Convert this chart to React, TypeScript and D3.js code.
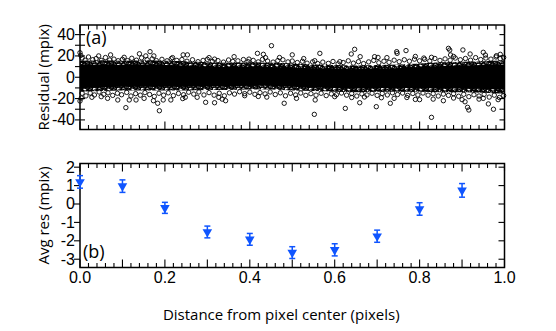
import React from "react";
import * as d3 from "d3";

// ---- Panel (b) data: average residual vs distance ----
const avgX = [0.0, 0.1, 0.2, 0.3, 0.4, 0.5, 0.6, 0.7, 0.8, 0.9];
const avgY = [1.2, 0.97, -0.21, -1.52, -1.92, -2.64, -2.49, -1.75, -0.27, 0.74];
const avgErr = [0.34, 0.34, 0.3, 0.32, 0.32, 0.32, 0.33, 0.33, 0.34, 0.37];

// ---- Panel (a) data: dense band of residuals (read envelope) ----
const coreX = [0, 0.05, 0.1, 0.15, 0.2, 0.25, 0.3, 0.35, 0.4, 0.45, 0.5, 0.55, 0.6, 0.65, 0.7, 0.75, 0.8, 0.85, 0.9, 0.95, 1.0];
const coreTop = [15.5, 16, 15.5, 16, 15.5, 15, 14, 13.5, 14, 13.5, 13, 12, 11.5, 11, 11.5, 12, 13, 14, 14.5, 15, 16];
const coreBot = [-13.5, -13, -12.5, -12.5, -12.5, -12.5, -12, -12, -11.5, -11.5, -12.5, -13, -13.5, -14, -13.5, -13.5, -13.5, -14, -14, -14.5, -15.5];
// solid (fully overlapped) inner part of the band
const solidTop = [11.5, 12, 11.5, 12, 11.5, 11, 10, 9.5, 10, 9.5, 9, 8.5, 8, 7.5, 8, 8.5, 9.5, 10.5, 11, 11.5, 12];
const solidBot = [-10, -9.5, -9, -9, -9, -9, -8.5, -8.5, -8, -8, -9, -9.5, -10, -10.5, -10, -10, -10, -10.5, -10.5, -11, -11.5];

// Individual residual points near band edges and outliers: [x, residual]
const upperFringe: [number, number][] = [
  [0.005,18],[0.012,16],[0.02,19],[0.03,16.5],[0.038,17.5],[0.05,15.8],[0.06,18.5],[0.07,16.2],[0.08,17],[0.09,15.5],
  [0.1,16.8],[0.112,15.6],[0.122,17.8],[0.133,16],[0.145,18.2],[0.158,16.5],[0.17,17.2],[0.18,15.6],[0.193,16.8],[0.205,15.4],
  [0.215,17.4],[0.228,15.8],[0.24,16.6],[0.252,15],[0.265,16.4],[0.278,14.6],[0.29,15.8],[0.3,16.8],[0.312,14.8],[0.325,15.6],
  [0.338,14.2],[0.35,16.2],[0.36,14.8],[0.372,15.4],[0.385,16.6],[0.396,14.6],[0.408,15.8],[0.42,14.4],[0.43,16.8],[0.442,15.2],
  [0.455,14.2],[0.466,15.6],[0.478,16.4],[0.49,14.4],[0.5,15.2],[0.512,13.8],[0.524,15],[0.535,13.2],[0.548,14.4],[0.56,12.8],
  [0.572,14.2],[0.585,13],[0.596,14.8],[0.608,12.6],[0.62,13.8],[0.632,15.4],[0.644,13.2],[0.656,14.6],[0.668,12.8],[0.68,14.4],
  [0.692,15.8],[0.704,13.6],[0.716,15],[0.728,14],[0.74,16],[0.752,14.6],[0.764,16.4],[0.776,15],[0.788,17],[0.8,15.4],
  [0.812,16.8],[0.824,15.2],[0.836,17.6],[0.848,15.8],[0.86,17.2],[0.872,16],[0.884,18],[0.896,16.4],[0.908,17.6],[0.92,16],
  [0.932,18.4],[0.944,16.6],[0.956,18],[0.968,17],[0.98,19],[0.99,17.4],[0.998,18.6],
];
const lowerFringe: [number, number][] = [
  [0.005,-15],[0.014,-17.5],[0.024,-14.8],[0.034,-16.6],[0.045,-13.8],[0.056,-16],[0.066,-14.6],[0.077,-17],[0.088,-15],[0.098,-16.4],
  [0.11,-14.2],[0.12,-17.6],[0.131,-15.4],[0.142,-16.8],[0.153,-14.4],[0.164,-16.2],[0.175,-18],[0.186,-15],[0.197,-16.8],[0.208,-14.6],
  [0.22,-17.2],[0.232,-15.2],[0.244,-16.4],[0.256,-14],[0.268,-15.8],[0.28,-13.8],[0.292,-16.6],[0.304,-14.4],[0.316,-16.8],[0.328,-15],
  [0.34,-17.4],[0.352,-14.6],[0.364,-15.8],[0.376,-13.6],[0.388,-15.4],[0.4,-14],[0.412,-16],[0.424,-14.4],[0.436,-15.6],[0.448,-13.8],
  [0.46,-16.2],[0.472,-14.6],[0.484,-17.4],[0.496,-15],[0.508,-16.6],[0.52,-14.8],[0.532,-17],[0.544,-15.4],[0.556,-16.8],[0.568,-15],
  [0.58,-17.2],[0.592,-15.6],[0.604,-16.4],[0.616,-14.8],[0.628,-16.8],[0.64,-15.2],[0.652,-17.6],[0.664,-15.6],[0.676,-16.6],[0.688,-15],
  [0.7,-17],[0.712,-15.2],[0.724,-16.6],[0.736,-14.6],[0.748,-16.2],[0.76,-14.8],[0.772,-17],[0.784,-15.2],[0.796,-16.6],[0.808,-14.8],
  [0.82,-16.8],[0.832,-15.4],[0.844,-17.6],[0.856,-15.8],[0.868,-17],[0.88,-15.4],[0.892,-17.8],[0.904,-16],[0.916,-18.2],[0.928,-16.4],
  [0.94,-17.6],[0.952,-16],[0.964,-18.6],[0.976,-16.8],[0.988,-19],[0.998,-17.2],
];
const outliers: [number, number][] = [
  [0.0,23],[0.002,20.5],[0.044,20],[0.072,21],[0.104,18.7],[0.14,22],[0.155,20],[0.165,24],[0.174,20],[0.218,18.4],
  [0.243,21],[0.253,21],[0.304,18.4],[0.317,17],[0.363,19.3],[0.398,17],[0.418,22.4],[0.432,21.5],[0.437,18.4],[0.451,29.6],
  [0.47,18.5],[0.5,21],[0.527,17.5],[0.565,22.4],[0.553,15.5],[0.612,14.6],[0.639,21.8],[0.647,26.2],[0.66,19.3],[0.694,19.3],
  [0.702,18.6],[0.723,18.4],[0.746,24],[0.747,22.4],[0.768,25],[0.79,19.5],[0.81,18],[0.828,18.7],[0.868,27.1],[0.871,25.5],
  [0.873,20.9],[0.88,19.5],[0.902,25.6],[0.919,21.8],[0.95,23.4],[0.955,20.8],[0.981,20.2],[0.99,21.5],
  [0.0,-22.3],[0.003,-19.5],[0.028,-18.8],[0.05,-18.2],[0.065,-19.8],[0.089,-21.3],[0.108,-28.5],[0.116,-21.3],[0.132,-21.3],[0.151,-19.8],
  [0.173,-22],[0.183,-24.4],[0.187,-31.4],[0.196,-21.3],[0.214,-21.3],[0.242,-20],[0.248,-18.8],[0.276,-18.8],[0.296,-23.5],[0.317,-23.9],
  [0.327,-18.8],[0.335,-20.5],[0.343,-22],[0.388,-17.3],[0.42,-18],[0.44,-18.6],[0.481,-24.4],[0.51,-19.8],[0.554,-21.3],[0.552,-34.8],
  [0.6,-18.2],[0.625,-29.2],[0.64,-19],[0.659,-23.9],[0.67,-18.5],[0.698,-27.6],[0.71,-19.2],[0.731,-24.4],[0.74,-19.8],[0.77,-19],
  [0.79,-20.8],[0.8,-21],[0.828,-37.6],[0.832,-20.5],[0.856,-22],[0.88,-19.5],[0.9,-21],[0.907,-23],[0.913,-28.2],[0.916,-30.7],
  [0.94,-20.5],[0.95,-19.8],[0.962,-25],[0.974,-30],[0.985,-21],
];

const xTickLabels = ["0.0", "0.2", "0.4", "0.6", "0.8", "1.0"];
const topYLabels = [40, 20, 0, -20, -40];
const botYLabels = [2, 1, 0, -1, -2, -3];

const FONT = "'Open Sans', 'Noto Sans', sans-serif";
const TICKFONT = "'Liberation Sans', Arial, sans-serif";
const BLUE = "#0f55ff";

export default function App() {
  const W = 556, H = 331;
  const L = 80, R = 504.5;
  const topT = 25, topB = 129.5;
  const botT = 163.5, botB = 267.5;

  const x = d3.scaleLinear().domain([0, 1]).range([L, R]);
  const yTop = d3.scaleLinear().domain([-49, 49]).range([topB, topT]);
  const yBot = d3.scaleLinear().domain([-3.45, 2.2]).range([botB, botT]);

  const band = (lo: number[], hi: number[]) =>
    d3
      .area<number>()
      .x((_, i) => x(coreX[i]))
      .y0((_, i) => yTop(lo[i]))
      .y1((_, i) => yTop(hi[i]))
      .curve(d3.curveMonotoneX)(coreX) as string;

  const minor = d3.range(0, 51).map((i) => i / 50);
  const points = [...upperFringe, ...lowerFringe, ...outliers];
  const tri = d3.symbol().type(d3.symbolTriangle).size(40)() as string;

  // texture of overlapping hollow markers for the dense part of the band
  const tex: [number, number][] = [
    [1.5, 1.2], [6.2, 2.6], [10.8, 0.8], [15.4, 3.1], [20.1, 1.4],
    [3.6, 5.2], [8.4, 6.4], [12.9, 4.9], [17.6, 6.8], [22.3, 5.5],
    [0.9, 8.9], [5.7, 10.1], [10.2, 8.4], [14.8, 10.6], [19.4, 9.2],
    [4.0, 0.2], [13.1, 1.9], [21.6, 10.9], [8.9, 3.6], [18.2, 4.2],
    [2.6, 7.3], [11.5, 11.2], [16.7, 8.6], [23.2, 7.9],
  ];

  const xTicks = (t: number, b: number, majorEvery: number) =>
    minor.map((v, i) => {
      const major = i % majorEvery === 0;
      const len = major ? 8 : 4.5;
      return (
        <g key={"xt" + i}>
          <line x1={x(v)} x2={x(v)} y1={t} y2={t + len} stroke="#000" strokeWidth={1.1} />
          <line x1={x(v)} x2={x(v)} y1={b} y2={b - len} stroke="#000" strokeWidth={1.1} />
        </g>
      );
    });

  return (
    <svg width={W} height={H} style={{ position: "absolute", left: 0, top: 0, background: "#fff" }} fontFamily={FONT}>
      <defs>
        <pattern id="dense" patternUnits="userSpaceOnUse" width={24} height={12}>
          {tex.flatMap((c, i) =>
            [-24, 0, 24].flatMap((dx) =>
              [-12, 0, 12].map((dy) => (
                <circle key={i + "_" + dx + "_" + dy} cx={c[0] + dx} cy={c[1] + dy} r={2.2} fill="none" stroke="#000" strokeWidth={1.1} />
              ))
            )
          )}
        </pattern>
      </defs>
      {/* Panel (a) */}
      <path d={band(coreBot, coreTop)} fill="url(#dense)" />
      <path d={band(solidBot, solidTop)} fill="#000" />
      {points.map((p, i) => (
        <circle key={"p" + i} cx={x(p[0])} cy={yTop(p[1])} r={2.2} fill="none" stroke="#000" strokeWidth={0.9} />
      ))}
      <rect x={L} y={topT} width={R - L} height={topB - topT} fill="none" stroke="#000" strokeWidth={1.5} />
      {xTicks(topT, topB, 10)}
      {d3.range(-40, 41, 10).map((v) => (
        <g key={"ty" + v}>
          <line x1={L - 5} x2={L + 5} y1={yTop(v)} y2={yTop(v)} stroke="#000" strokeWidth={1.1} />
          <line x1={R} x2={R - 5} y1={yTop(v)} y2={yTop(v)} stroke="#000" strokeWidth={1.1} />
        </g>
      ))}
      {topYLabels.map((v) => (
        <text key={"tyl" + v} x={75} y={yTop(v) + 5.5} textAnchor="end" fontSize={16} fontFamily={TICKFONT}>
          {v}
        </text>
      ))}
      <text x={86} y={43.5} fontSize={18}>(a)</text>
      <text transform={`translate(48.5,${(topT + topB) / 2}) rotate(-90)`} textAnchor="middle" fontSize={15}>
        Residual (mpix)
      </text>

      {/* Panel (b) */}
      <rect x={L} y={botT} width={R - L} height={botB - botT} fill="none" stroke="#000" strokeWidth={1.5} />
      {xTicks(botT, botB, 5)}
      {d3.range(-3, 3, 1).map((v) => (
        <g key={"by" + v}>
          <line x1={L - 6} x2={L} y1={yBot(v)} y2={yBot(v)} stroke="#000" strokeWidth={1.1} />
          <line x1={R} x2={R - 6} y1={yBot(v)} y2={yBot(v)} stroke="#000" strokeWidth={1.1} />
        </g>
      ))}
      {botYLabels.map((v) => (
        <text key={"byl" + v} x={75} y={yBot(v) + 5.5} textAnchor="end" fontSize={16} fontFamily={TICKFONT}>
          {v}
        </text>
      ))}
      <text x={83} y={257.5} fontSize={18}>(b)</text>
      <text transform={`translate(48.5,${(botT + botB) / 2}) rotate(-90)`} textAnchor="middle" fontSize={15}>
        Avg res (mpix)
      </text>
      {avgX.map((v, i) => {
        const cx = x(v);
        const y1 = yBot(avgY[i] + avgErr[i]);
        const y2 = yBot(avgY[i] - avgErr[i]);
        return (
          <g key={"m" + i} stroke={BLUE} strokeWidth={1.5}>
            <line x1={cx} x2={cx} y1={y1} y2={y2} />
            <line x1={cx - 3} x2={cx + 3} y1={y1} y2={y1} />
            <line x1={cx - 3} x2={cx + 3} y1={y2} y2={y2} />
            <path d={tri} transform={`translate(${cx},${yBot(avgY[i])}) rotate(180)`} fill={BLUE} stroke="none" />
          </g>
        );
      })}
      {xTickLabels.map((t, i) => (
        <text key={"xl" + t} x={x(i * 0.2)} y={283} textAnchor="middle" fontSize={16} fontFamily={TICKFONT}>
          {t}
        </text>
      ))}
      <text x={(L + R) / 2 - 11} y={320} textAnchor="middle" fontSize={15}>
        Distance from pixel center (pixels)
      </text>
    </svg>
  );
}
